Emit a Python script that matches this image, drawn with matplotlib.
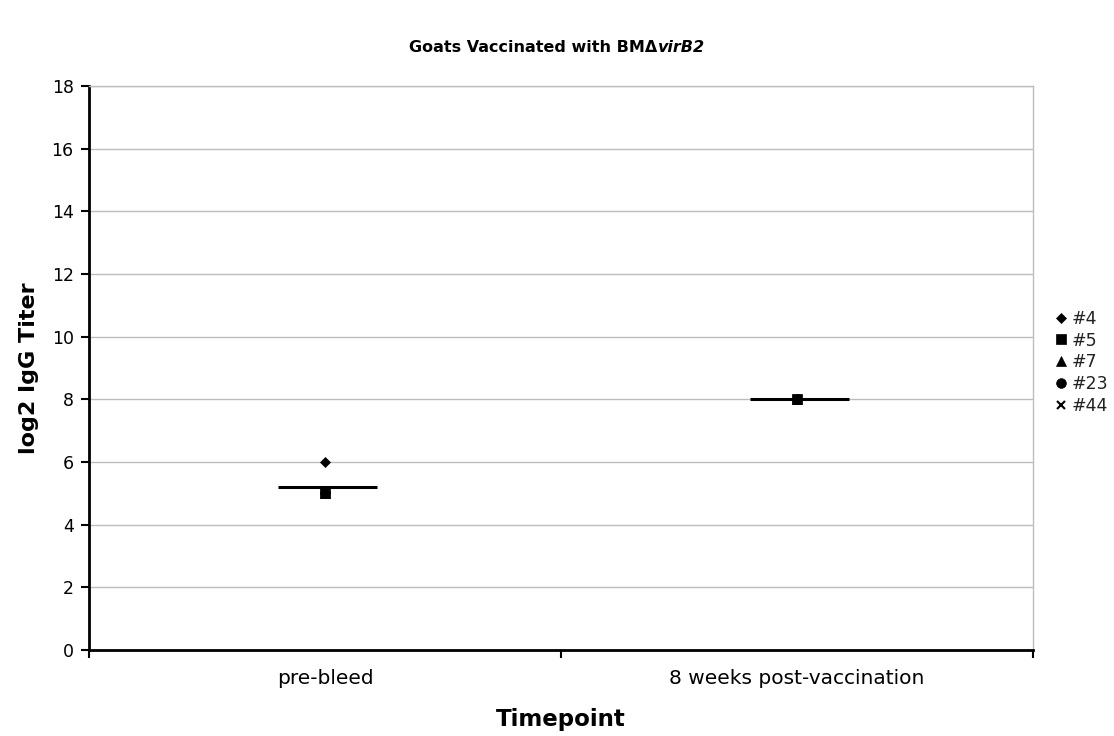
import matplotlib
matplotlib.use("Agg")
import matplotlib.pyplot as plt
import numpy as np
from matplotlib.offsetbox import TextArea, HPacker, AnchoredOffsetbox

timepoints = ["pre-bleed", "8 weeks post-vaccination"]
goat_ids = ["#4", "#5", "#7", "#23", "#44"]
titer_4 = [6, 8]
titer_5 = [5, 8]
titer_7 = [5, 8]
titer_23 = [5, 8]
titer_44 = [5, 8]
series = [titer_4, titer_5, titer_7, titer_23, titer_44]
markers = ["D", "s", "^", "o", "x"]
sizes = [5, 7, 7, 7, 6]

plt.rcParams["font.family"] = ["DejaVu Sans"]

fig = plt.figure(figsize=(11.14, 7.36), dpi=100)
ax = fig.add_axes([0.0799, 0.1168, 0.8474, 0.7664])

x = np.arange(1, len(timepoints) + 1)
means = np.mean(np.array(series, dtype=float), axis=0)

ax.hlines(means, x - 0.1, x + 0.11, colors="black", linewidth=2.2, zorder=4)

for i, (vals, m, s, gid) in enumerate(zip(series, markers, sizes, goat_ids)):
    ax.plot(x, vals, linestyle="none", marker=m, markersize=s, color="black",
            markeredgewidth=1.5 if m == "x" else 0.5, label=gid, zorder=10 - i)

ax.set_xlim(0.5, len(timepoints) + 0.5)
ax.set_ylim(0, 18)
ax.set_yticks(np.arange(0, 19, 2))
ax.set_xticks(np.arange(0.5, len(timepoints) + 1, 1))
ax.set_xticklabels([])
ax.set_xticks(x, minor=True)
ax.set_xticklabels(timepoints, minor=True, fontsize=14.5)
ax.tick_params(axis="x", which="minor", length=0, pad=14)
ax.tick_params(axis="x", which="major", direction="out", length=6, width=1.5)
ax.tick_params(axis="y", direction="out", length=6, width=1.5, labelsize=12.5, pad=5)

ax.yaxis.grid(True, color="#bdbdbd", linewidth=1)
ax.set_axisbelow(True)
for side in ["left", "bottom"]:
    ax.spines[side].set_linewidth(2)
    ax.spines[side].set_color("black")
for side in ["top", "right"]:
    ax.spines[side].set_linewidth(1)
    ax.spines[side].set_color("#bdbdbd")

ax.set_ylabel("log2 IgG Titer", fontsize=16, fontweight="bold", labelpad=9)
ax.set_xlabel("Timepoint", fontsize=16.5, fontweight="bold", labelpad=14)

leg = ax.legend(loc="center left", bbox_to_anchor=(1.0075, 0.51), frameon=False,
                fontsize=12.5, handlelength=0.6, handletextpad=0.3, labelspacing=0.22,
                borderaxespad=0.5)
for t in leg.get_texts():
    t.set_color("#222222")

# Title with italic gene name
t1 = TextArea("Goats Vaccinated with BMΔ",
              textprops=dict(fontsize=11.5, fontweight="bold", color="black"))
t2 = TextArea("virB2",
              textprops=dict(fontsize=11.5, fontweight="bold", fontstyle="italic", color="black"))
box = HPacker(children=[t1, t2], align="baseline", pad=0, sep=0)
anchored = AnchoredOffsetbox(loc="center", child=box, frameon=False,
                             bbox_to_anchor=(0.5, 1 - 47 / 736),
                             bbox_transform=fig.transFigure, borderpad=0, pad=0)
fig.add_artist(anchored)

fig.savefig("out.png", dpi=100, facecolor="white")
